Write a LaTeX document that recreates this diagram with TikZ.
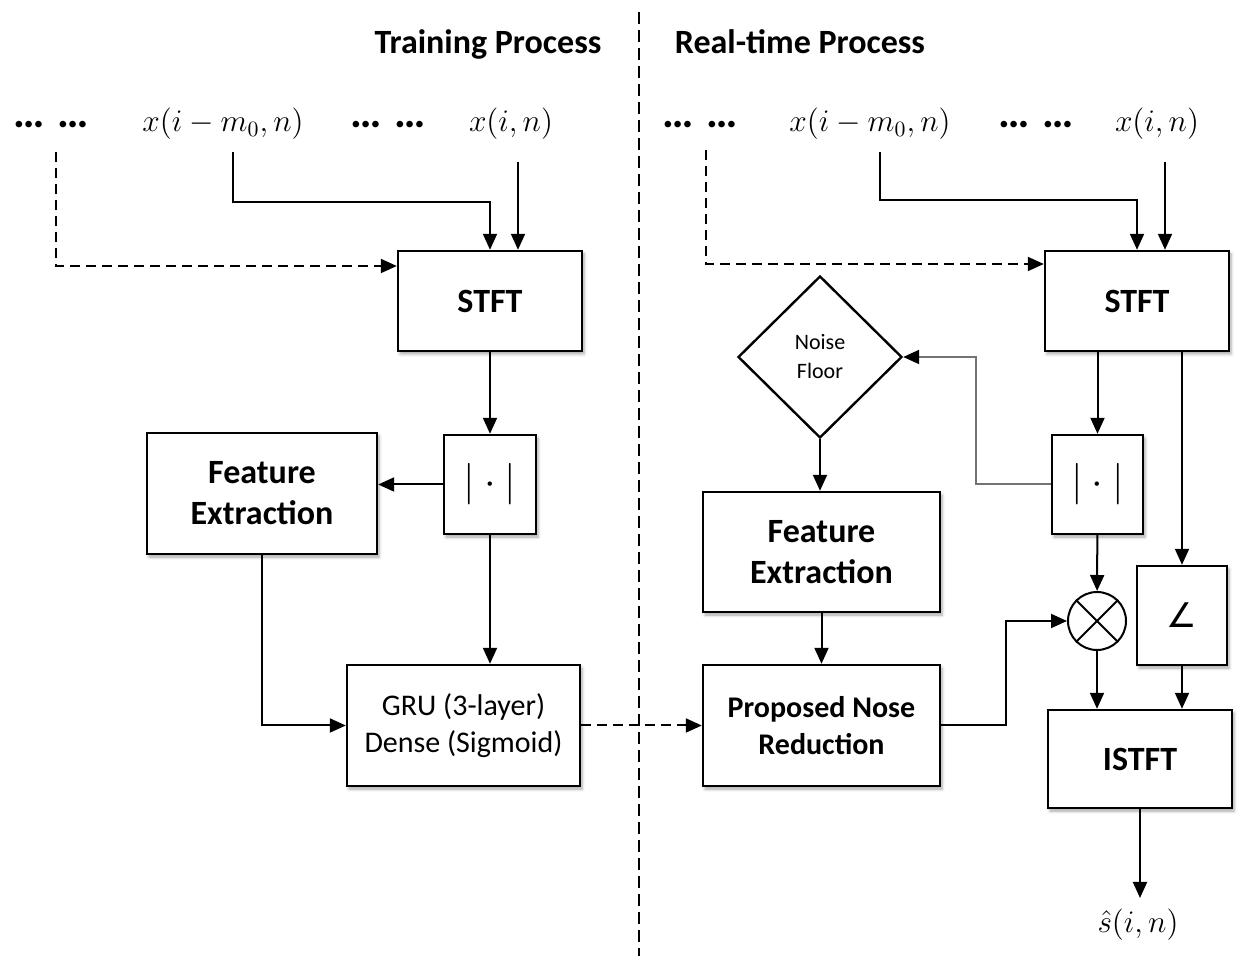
\documentclass[tikz,border=0pt]{standalone}
\usepackage{amsmath}
\usepackage{fontspec}
\setmainfont{Carlito}
\newfontfamily\symfont{DejaVu Sans}
\usetikzlibrary{arrows.meta,shapes.geometric,shadows.blur}

\tikzset{
	blk/.style={draw, line width=1.2pt, fill=white, align=center, inner sep=0pt,
		blur shadow={shadow xshift=1pt, shadow yshift=-1.5pt, shadow blur radius=1.5pt, shadow opacity=35}},
	bold/.style={font=\fontsize{17}{20.5}\selectfont\bfseries},
	plain/.style={font=\fontsize{15}{18.5}\selectfont},
	mathlbl/.style={font=\fontsize{14.4}{17}\selectfont, scale=1.09, inner sep=1pt},
	dotlbl/.style={font=\fontsize{22}{22}\selectfont\bfseries, inner sep=1pt},
	arr/.style={-{Triangle[length=8pt,width=7pt]}, line width=1pt},
	darr/.style={arr, dash pattern=on 5pt off 3pt},
	garr/.style={-{Triangle[length=8pt,width=7pt,color=black]}, line width=1pt, draw=black!55},
}

\begin{document}
\begin{tikzpicture}[x=0.5pt,y=-0.5pt]
	\useasboundingbox (0,0) rectangle (1244,956);

	% separator
	\coordinate (sepT) at (639,12);
	\coordinate (sepB) at (639,956);
	\draw[line width=1pt, dash pattern=on 6pt off 3pt] (sepT) -- (sepB);

	\node[bold] (titleL) at (488,44) {Training Process};
	\node[bold] (titleR) at (800,42) {Real-time Process};

	% inputs, training side
	\node[dotlbl] (dotsL1) at (51,125) {…\hspace{0.3em}…};
	\node[mathlbl] (xmL) at (223,124) {$x(i-m_0,n)$};
	\node[dotlbl] (dotsL2) at (388,125) {…\hspace{0.3em}…};
	\node[mathlbl] (xiL) at (511,124) {$x(i,n)$};
	\coordinate (tdL) at (56,152);
	\coordinate (tmL) at (233,152);
	\coordinate (tiL) at (518,162);

	% inputs, real-time side
	\node[dotlbl] (dotsR1) at (700,125) {…\hspace{0.3em}…};
	\node[mathlbl] (xmR) at (870,124) {$x(i-m_0,n)$};
	\node[dotlbl] (dotsR2) at (1036,125) {…\hspace{0.3em}…};
	\node[mathlbl] (xiR) at (1157,124) {$x(i,n)$};
	\coordinate (tdR) at (706,150);
	\coordinate (tmR) at (880,152);
	\coordinate (tiR) at (1165,162);

	% training blocks
	\node[blk, bold, minimum width=92pt, minimum height=50pt] (stftL) at (490,301) {STFT};
	\node[blk, minimum width=46pt, minimum height=49.5pt, font=\fontsize{20}{20}\selectfont] (absL) at (490,484.5) {$|\cdot|$};
	\node[blk, bold, minimum width=115pt, minimum height=60.5pt] (featL) at (262,493.5) {Feature\\Extraction};
	\node[blk, plain, minimum width=116.5pt, minimum height=60.5pt] (gruL) at (463.5,725.5) {GRU (3-layer)\\Dense (Sigmoid)};

	% real-time blocks
	\node[blk, bold, minimum width=92pt, minimum height=50pt] (stftR) at (1137,301) {STFT};
	\node[draw, diamond, line width=1.2pt, fill=white, align=center, inner sep=0pt,
		minimum width=82pt, minimum height=81pt, font=\fontsize{11}{14.5}\selectfont] (noise) at (820,357) {Noise\\Floor};
	\node[blk, bold, minimum width=118.5pt, minimum height=60pt] (featR) at (821.5,552) {Feature\\Extraction};
	\node[blk, font=\fontsize{15}{18.5}\selectfont\bfseries, minimum width=118.5pt, minimum height=60.5pt] (propR) at (821.5,725.5) {Proposed Nose\\Reduction};
	\node[blk, minimum width=45.5pt, minimum height=49.5pt, font=\fontsize{20}{20}\selectfont] (absR) at (1097.5,484.5) {$|\cdot|$};
	\node[draw, circle, line width=1pt, fill=white, minimum size=29pt, inner sep=0pt] (mult) at (1097,621) {};
	\draw[line width=1pt] (mult.north east) -- (mult.south west) (mult.north west) -- (mult.south east);
	\node[blk, minimum width=45pt, minimum height=49.5pt, font=\fontsize{17}{17}\symfont] (angle) at (1182,615.5) {∠};
	\node[blk, bold, minimum width=92pt, minimum height=49pt] (istft) at (1140,759) {ISTFT};
	\node[mathlbl, inner sep=5pt] (out) at (1138,925) {$\hat{s}(i,n)$};

	% training connectors
	\draw[darr] (tdL) |- ([yshift=17.5pt]stftL.west);
	\draw[arr] (tmL) -- ++(0,50) -| (stftL.north);
	\draw[arr] (tiL) -- (tiL |- stftL.north);
	\draw[arr] (stftL) -- (absL);
	\draw[arr] (absL.west) -- (featL.east |- absL.west);
	\draw[arr] (absL.south) -- (absL.south |- gruL.north);
	\draw[arr] (featL.south) |- (gruL.west);
	\draw[darr] (gruL.east) -- (propR.west);

	% real-time connectors
	\draw[darr] (tdR) |- ([yshift=18.5pt]stftR.west);
	\draw[arr] (tmR) -- ++(0,48) -| (stftR.north);
	\draw[arr] (tiR) -- (tiR |- stftR.north);
	\draw[arr] (absR.north |- stftR.south) -- (absR.north);
	\draw[arr] (angle.north |- stftR.south) -- (angle.north);
	\draw[garr] (absR.west) -- ++(-75,0) |- (noise.east);
	\draw[arr] (noise.south) -- (noise.south |- featR.north);
	\draw[arr] (featR) -- (propR);
	\draw[arr] (propR.east) -- ++(65,0) |- (mult.west);
	\draw[arr] (absR) -- (mult);
	\draw[arr] (mult.south) -- (mult.south |- istft.north);
	\draw[arr] (angle.south) -- (angle.south |- istft.north);
	\draw[arr] (istft.south) -- (istft.south |- out.north);

\end{tikzpicture}
\end{document}
